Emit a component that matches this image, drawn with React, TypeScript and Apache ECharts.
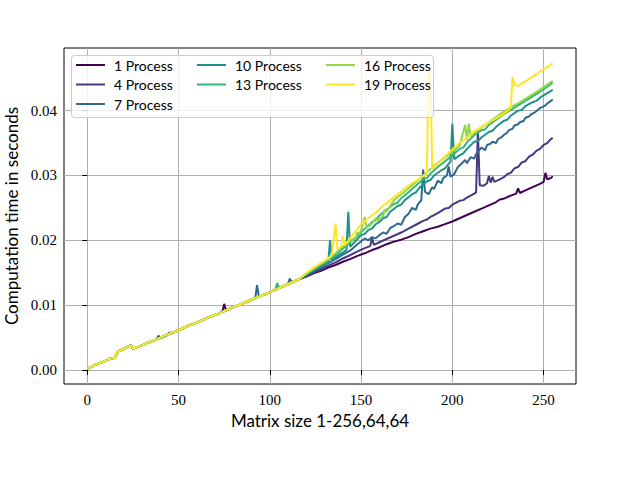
import React, { useEffect, useRef } from "react";
import * as echarts from "echarts";

const SERIES_NAMES = ["1 Process", "4 Process", "7 Process", "10 Process", "13 Process", "16 Process", "19 Process"];
const COLORS = ["#440154", "#443983", "#31688e", "#21918c", "#35b779", "#90d743", "#fde725"];
const X_TICKS = [0, 50, 100, 150, 200, 250];
const Y_TICKS = [0, 0.01, 0.02, 0.03, 0.04];

// shared part (all process counts overlap for small matrices)
const COMMON_X = [0, 3, 6, 9, 12, 15, 16, 17, 19, 21, 23, 24, 25, 27, 30, 33, 36, 40, 44, 48, 52, 56, 60, 64, 68, 72, 76, 80, 84, 88, 92, 96, 100, 104, 108, 112, 116];
const COMMON_Y = [0.0002, 0.0006, 0.001, 0.0013, 0.0017, 0.0019, 0.0024, 0.0029, 0.0031, 0.0034, 0.0037, 0.0038, 0.0033, 0.0035, 0.0038, 0.0042, 0.0045, 0.005, 0.0055, 0.0059, 0.0064, 0.0069, 0.0073, 0.0078, 0.0083, 0.0087, 0.0092, 0.0097, 0.0101, 0.0106, 0.0111, 0.0115, 0.012, 0.0125, 0.013, 0.0135, 0.014];

const EXTRA_1 = [[74, 0.009], [75, 0.0102], [76, 0.0092]];
const EXTRA_4: number[][] = [];
const EXTRA_7 = [[38, 0.0047], [39, 0.0053], [40, 0.0049], [44, 0.0054], [45, 0.0058], [46, 0.0056], [92, 0.0111], [93, 0.0131], [94, 0.0113], [110, 0.0133], [111, 0.0141], [112, 0.0135]];
const EXTRA_10: number[][] = [];
const EXTRA_13 = [[103, 0.0124], [104, 0.0134], [105, 0.0127]];
const EXTRA_16: number[][] = [];
const EXTRA_19: number[][] = [];

const TAIL_1 = [[120, 0.0144], [124, 0.0149], [128, 0.0153], [132, 0.0158], [136, 0.0162], [140, 0.0167], [144, 0.0171], [148, 0.0176], [152, 0.018], [156, 0.0185], [160, 0.0189], [164, 0.0194], [168, 0.0198], [172, 0.0201], [176, 0.0205], [180, 0.021], [184, 0.0214], [188, 0.0218], [192, 0.0221], [196, 0.0225], [200, 0.0229], [204, 0.0234], [208, 0.0239], [212, 0.0244], [216, 0.0249], [220, 0.0254], [224, 0.0259], [226, 0.0263], [228, 0.0264], [232, 0.0269], [235, 0.0272], [236, 0.028], [237, 0.0273], [240, 0.0277], [244, 0.0282], [248, 0.0287], [250, 0.029], [251, 0.0304], [252, 0.0294], [254, 0.0296], [255, 0.0299]];
const TAIL_4 = [[120, 0.0145], [124, 0.015], [128, 0.0155], [132, 0.0161], [136, 0.0166], [140, 0.0172], [144, 0.0177], [148, 0.0183], [152, 0.0188], [155, 0.0191], [156, 0.0204], [157, 0.0193], [160, 0.0197], [164, 0.0202], [168, 0.0207], [172, 0.0212], [176, 0.0218], [180, 0.0224], [184, 0.023], [186, 0.0232], [188, 0.0236], [190, 0.0239], [192, 0.0242], [196, 0.0249], [198, 0.025], [200, 0.0255], [204, 0.0261], [206, 0.0262], [208, 0.0266], [212, 0.0272], [213, 0.0274], [214, 0.0368], [215, 0.0285], [217, 0.0284], [219, 0.0288], [220, 0.0299], [221, 0.0289], [222, 0.0298], [223, 0.029], [226, 0.0294], [228, 0.0297], [230, 0.0302], [232, 0.0304], [234, 0.0311], [236, 0.0313], [238, 0.032], [240, 0.0322], [242, 0.0329], [244, 0.0332], [246, 0.0338], [248, 0.0341], [250, 0.0347], [252, 0.035], [254, 0.0356], [255, 0.0358]];
const TAIL_7 = [[120, 0.0146], [124, 0.0152], [128, 0.0158], [132, 0.0165], [136, 0.0171], [140, 0.0178], [144, 0.0184], [148, 0.0194], [150, 0.0198], [152, 0.0203], [154, 0.02], [156, 0.0205], [158, 0.0203], [160, 0.0208], [162, 0.0212], [164, 0.021], [166, 0.0219], [168, 0.0222], [170, 0.0226], [172, 0.0224], [174, 0.0236], [176, 0.0241], [178, 0.025], [180, 0.0247], [181, 0.0255], [183, 0.0262], [184, 0.0309], [185, 0.0275], [187, 0.0271], [189, 0.0282], [190, 0.0279], [192, 0.0292], [194, 0.0288], [195, 0.0296], [197, 0.03], [198, 0.0314], [199, 0.0298], [201, 0.0302], [203, 0.0313], [205, 0.0318], [207, 0.0324], [208, 0.0319], [210, 0.0328], [212, 0.0326], [213, 0.0333], [215, 0.034], [216, 0.0343], [218, 0.0339], [219, 0.0347], [221, 0.0349], [222, 0.0352], [224, 0.035], [225, 0.0356], [227, 0.0359], [228, 0.0362], [230, 0.0366], [231, 0.037], [233, 0.0372], [234, 0.0377], [236, 0.0379], [237, 0.0382], [239, 0.0384], [240, 0.0389], [242, 0.0391], [243, 0.0394], [245, 0.0397], [246, 0.0399], [248, 0.0404], [249, 0.0405], [251, 0.0408], [252, 0.0411], [254, 0.0415], [255, 0.0417]];
const TAIL_10 = [[120, 0.0147], [124, 0.0154], [128, 0.016], [132, 0.0166], [133, 0.02], [134, 0.017], [137, 0.0176], [140, 0.0181], [142, 0.0185], [143, 0.0244], [144, 0.019], [147, 0.0199], [150, 0.0208], [152, 0.021], [154, 0.0216], [156, 0.0218], [158, 0.0225], [160, 0.0228], [162, 0.0234], [164, 0.0236], [166, 0.0244], [170, 0.0253], [172, 0.0255], [174, 0.0262], [178, 0.0271], [180, 0.0274], [182, 0.0281], [186, 0.0291], [188, 0.0293], [190, 0.03], [194, 0.0308], [196, 0.0311], [198, 0.0318], [199, 0.0321], [200, 0.038], [201, 0.0325], [204, 0.0331], [206, 0.0334], [208, 0.0341], [212, 0.0352], [214, 0.0353], [216, 0.0359], [220, 0.0367], [222, 0.0369], [224, 0.0375], [228, 0.0384], [230, 0.0386], [232, 0.0392], [236, 0.04], [238, 0.0401], [240, 0.0407], [244, 0.0413], [246, 0.0415], [248, 0.042], [252, 0.0427], [255, 0.0432]];
const TAIL_13 = [[120, 0.0148], [124, 0.0155], [128, 0.0162], [132, 0.0169], [136, 0.0177], [140, 0.0187], [144, 0.0197], [148, 0.0207], [152, 0.0218], [156, 0.0228], [158, 0.0231], [160, 0.0238], [164, 0.0247], [168, 0.0256], [170, 0.0258], [172, 0.0265], [176, 0.0274], [180, 0.0284], [184, 0.0294], [186, 0.0296], [188, 0.0303], [192, 0.0313], [196, 0.0322], [200, 0.0331], [204, 0.0341], [206, 0.0343], [208, 0.0351], [212, 0.0362], [216, 0.037], [218, 0.0371], [220, 0.0378], [224, 0.0386], [228, 0.0394], [232, 0.0401], [236, 0.0408], [240, 0.0415], [244, 0.0422], [248, 0.0429], [252, 0.0437], [255, 0.0443]];
const TAIL_16 = [[120, 0.0149], [124, 0.0157], [128, 0.0164], [132, 0.0171], [136, 0.018], [140, 0.019], [144, 0.0199], [147, 0.0203], [148, 0.0212], [149, 0.021], [150, 0.0215], [152, 0.0236], [153, 0.0219], [156, 0.0226], [158, 0.0234], [159, 0.023], [162, 0.0237], [163, 0.0248], [164, 0.0244], [168, 0.0262], [172, 0.0271], [176, 0.028], [180, 0.029], [184, 0.03], [188, 0.031], [192, 0.0319], [196, 0.0328], [200, 0.0336], [204, 0.0346], [207, 0.0378], [208, 0.0355], [209, 0.038], [210, 0.036], [213, 0.0368], [216, 0.0374], [220, 0.0382], [224, 0.039], [228, 0.0398], [232, 0.0405], [236, 0.0411], [240, 0.0418], [244, 0.0425], [248, 0.0432], [252, 0.044], [255, 0.0446]];
const TAIL_19 = [[120, 0.015], [124, 0.0157], [128, 0.0165], [132, 0.0172], [134, 0.0178], [136, 0.0226], [137, 0.0186], [139, 0.019], [140, 0.0207], [141, 0.0192], [144, 0.0203], [147, 0.0214], [150, 0.0225], [154, 0.0234], [158, 0.0243], [162, 0.0253], [166, 0.0262], [170, 0.0271], [174, 0.028], [178, 0.0288], [182, 0.0295], [186, 0.0302], [187, 0.046], [188, 0.0457], [189, 0.031], [192, 0.0318], [196, 0.033], [200, 0.034], [204, 0.035], [208, 0.0358], [212, 0.0368], [216, 0.0375], [220, 0.0382], [224, 0.0388], [228, 0.0395], [232, 0.0404], [233, 0.0452], [234, 0.044], [236, 0.0438], [240, 0.0445], [244, 0.0452], [248, 0.046], [252, 0.0467], [255, 0.0473]];

const EXTRAS = [EXTRA_1, EXTRA_4, EXTRA_7, EXTRA_10, EXTRA_13, EXTRA_16, EXTRA_19];
const TAILS = [TAIL_1, TAIL_4, TAIL_7, TAIL_10, TAIL_13, TAIL_16, TAIL_19];

function buildData(extra: number[][], tail: number[][]) {
  const m = new Map<number, number>();
  COMMON_X.forEach((x, i) => m.set(x, COMMON_Y[i]));
  extra.forEach(([x, y]) => m.set(x, y));
  tail.forEach(([x, y]) => m.set(x, y));
  return Array.from(m.entries()).sort((a, b) => a[0] - b[0]);
}

export default function App() {
  const ref = useRef<HTMLDivElement>(null);
  useEffect(() => {
    if (!ref.current) return;
    const chart = echarts.init(ref.current, null, { renderer: "svg" });
    const sans = "Lato";
    const serif = "Liberation Serif";
    const legendCommon = {
      orient: "vertical" as const,
      top: 58,
      padding: 0,
      icon: "rect",
      itemWidth: 29,
      itemHeight: 2,
      itemGap: 5.5,
      textStyle: { fontFamily: sans, fontSize: 14, lineHeight: 14, color: "#000", padding: [0, 0, 0, 4] },
      z: 5,
    };
    chart.setOption({
      animation: false,
      backgroundColor: "#ffffff",
      color: COLORS,
      grid: {
        left: 64, right: 64, top: 48, bottom: 96,
        containLabel: false,
        outerBoundsMode: "none",
        show: true, borderColor: "#000", borderWidth: 1, backgroundColor: "transparent",
      },
      xAxis: {
        type: "value",
        min: -12.75,
        max: 267.75,
        axisLine: { show: false },
        axisTick: { show: true, length: 5, lineStyle: { color: "#000" }, customValues: X_TICKS },
        axisLabel: {
          customValues: X_TICKS,
          fontFamily: serif,
          fontSize: 15,
          color: "#000",
          margin: 8,
          formatter: (v: number) => (Math.abs(v % 50) < 1e-9 ? String(v) : ""),
        },
        splitLine: { show: true, lineStyle: { color: "#b0b0b0", width: 1 } },
        name: "Matrix size 1-256,64,64",
        nameLocation: "middle",
        nameGap: 25,
        nameTextStyle: { fontFamily: sans, fontSize: 17, color: "#000" },
      },
      yAxis: {
        type: "value",
        min: -0.002155,
        max: 0.049655,
        axisLine: { show: false },
        axisTick: { show: true, length: 5, lineStyle: { color: "#000" }, customValues: Y_TICKS },
        axisLabel: {
          customValues: Y_TICKS,
          fontFamily: serif,
          fontSize: 15,
          color: "#000",
          margin: 7,
          formatter: (v: number) => (Math.abs(Math.round(v * 100) - v * 100) < 1e-7 ? v.toFixed(2) : ""),
        },
        splitLine: { show: true, lineStyle: { color: "#b0b0b0", width: 1 } },
        name: "Computation time in seconds",
        nameLocation: "middle",
        nameGap: 41,
        nameTextStyle: { fontFamily: sans, fontSize: 17, color: "#000" },
      },
      legend: [
        { ...legendCommon, left: 76, data: SERIES_NAMES.slice(0, 3) },
        { ...legendCommon, left: 197, data: SERIES_NAMES.slice(3, 5) },
        { ...legendCommon, left: 326, data: SERIES_NAMES.slice(5, 7) },
      ],
      graphic: [
        {
          type: "rect",
          z: 3,
          shape: { x: 71.5, y: 55.5, width: 362, height: 62, r: 3 },
          style: { fill: "rgba(255,255,255,0.8)", stroke: "#cccccc", lineWidth: 1 },
        },
      ],
      series: SERIES_NAMES.map((name, i) => ({
        name,
        type: "line",
        data: buildData(EXTRAS[i], TAILS[i]),
        showSymbol: false,
        symbol: "none",
        lineStyle: { width: 2, color: COLORS[i] },
        itemStyle: { color: COLORS[i] },
        z: 2,
      })),
    });
    return () => chart.dispose();
  }, []);
  return <div ref={ref} style={{ position: "absolute", left: 0, top: 0, width: 640, height: 480 }} />;
}
